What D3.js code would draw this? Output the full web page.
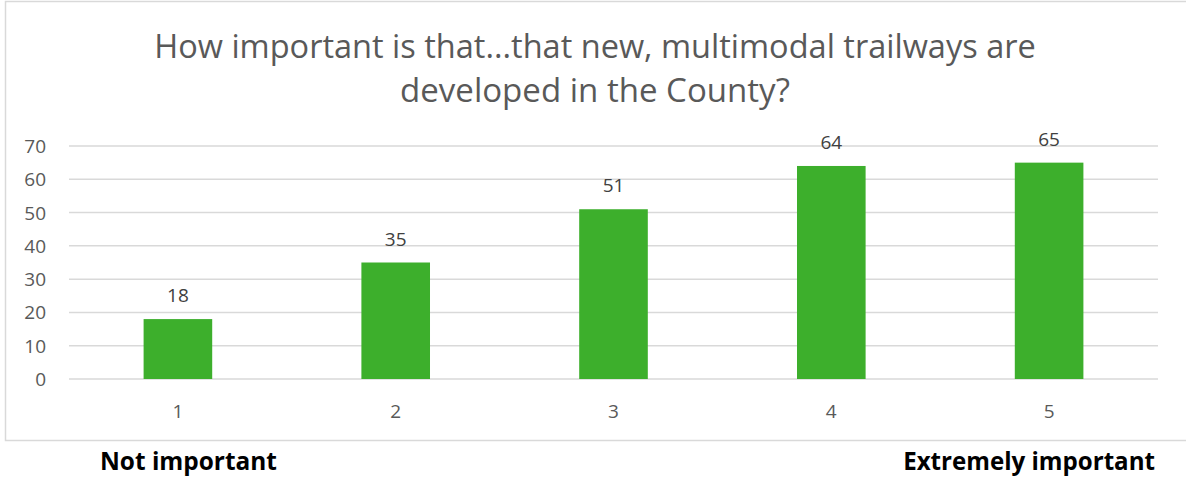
<!DOCTYPE html>
<html>
<head>
<meta charset="utf-8">
<script src="https://cdn.jsdelivr.net/npm/d3@7"></script>
<style>
  body { margin: 0; background: #fff; }
  text { font-family: "Open Sans", sans-serif; }
</style>
</head>
<body>
<div id="chart"></div>
<script>
// Data
const categories = ["1", "2", "3", "4", "5"];
const values = [18, 35, 51, 64, 65];
const yTicks = [0, 10, 20, 30, 40, 50, 60, 70];
const titleLines = ["How important is that...that new, multimodal trailways are", "developed in the County?"];
const endLabels = ["Not important", "Extremely important"];

const W = 1186, H = 479;
const chart = { left: 69, right: 1158, top: 146, bottom: 379 };

const svg = d3.select("#chart")
  .append("svg")
  .attr("width", W)
  .attr("height", H);

// squeeze/stretch a text to a target width by font size
function fitWidth(el, base, target) {
  const len = el.node().getComputedTextLength();
  el.attr("font-size", (base * target / len).toFixed(2) + "px");
}

// Chart frame
svg.append("rect")
  .attr("x", 5.5)
  .attr("y", 1.5)
  .attr("width", 1200)
  .attr("height", 439)
  .attr("fill", "none")
  .attr("stroke", "#d9d9d9")
  .attr("stroke-width", 1.5);

// Title
const titleWidths = [882, 390];
titleLines.forEach((t, i) => {
  const el = svg.append("text")
    .attr("x", 595)
    .attr("y", 58 + i * 44)
    .attr("text-anchor", "middle")
    .attr("font-size", "26px")
    .attr("fill", "#595959")
    .text(t);
  fitWidth(el, 26, titleWidths[i]);
});

// Scales
const x = d3.scaleBand()
  .domain(categories)
  .range([chart.left, chart.right])
  .paddingInner(0.685)
  .paddingOuter(0.3425);

const y = d3.scaleLinear()
  .domain([0, 70])
  .range([chart.bottom, chart.top]);

// Gridlines
svg.append("g")
  .selectAll("line")
  .data(yTicks)
  .enter()
  .append("line")
  .attr("x1", chart.left)
  .attr("x2", chart.right)
  .attr("y1", d => y(d))
  .attr("y2", d => y(d))
  .attr("stroke", "#d9d9d9")
  .attr("stroke-width", 1.5);

// Y axis labels
svg.append("g")
  .selectAll("text")
  .data(yTicks)
  .enter()
  .append("text")
  .attr("x", 46)
  .attr("y", d => y(d) + 7)
  .attr("text-anchor", "end")
  .attr("font-size", "19px")
  .attr("fill", "#595959")
  .text(d => d);

// Bars
svg.append("g")
  .selectAll("rect")
  .data(values)
  .enter()
  .append("rect")
  .attr("x", (d, i) => x(categories[i]))
  .attr("y", d => y(d))
  .attr("width", x.bandwidth())
  .attr("height", d => chart.bottom - y(d))
  .attr("fill", "#3daf2c");

// Data labels
svg.append("g")
  .selectAll("text")
  .data(values)
  .enter()
  .append("text")
  .attr("x", (d, i) => x(categories[i]) + x.bandwidth() / 2)
  .attr("y", d => y(d) - 17)
  .attr("text-anchor", "middle")
  .attr("font-size", "19px")
  .attr("fill", "#404040")
  .text(d => d);

// Category labels
svg.append("g")
  .selectAll("text")
  .data(categories)
  .enter()
  .append("text")
  .attr("x", d => x(d) + x.bandwidth() / 2)
  .attr("y", 418)
  .attr("text-anchor", "middle")
  .attr("font-size", "19px")
  .attr("fill", "#595959")
  .text(d => d);

// End labels
const left = svg.append("text")
  .attr("x", 100)
  .attr("y", 470)
  .attr("font-size", "20px")
  .attr("font-weight", "bold")
  .attr("fill", "#000")
  .text(endLabels[0]);
fitWidth(left, 20, 177);

const right = svg.append("text")
  .attr("x", 1155)
  .attr("y", 470)
  .attr("text-anchor", "end")
  .attr("font-size", "20px")
  .attr("font-weight", "bold")
  .attr("fill", "#000")
  .text(endLabels[1]);
fitWidth(right, 20, 252);
</script>
</body>
</html>
